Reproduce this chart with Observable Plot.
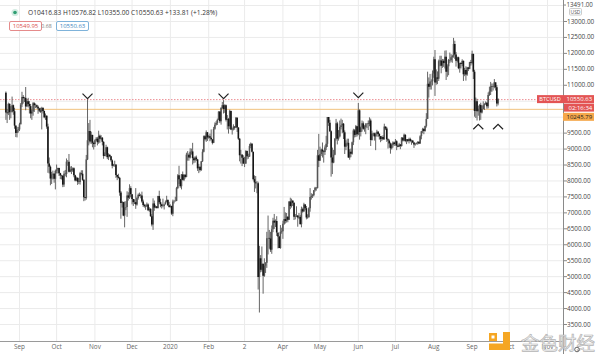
<!DOCTYPE html>
<html><head><meta charset="utf-8">
<script src="https://cdn.jsdelivr.net/npm/d3@7"></script>
<script src="https://cdn.jsdelivr.net/npm/@observablehq/plot@0.6"></script>
<style>html,body{margin:0;padding:0;background:#fff;overflow:hidden} #chart svg{display:block}</style>
</head><body><div id="chart"></div>
<script>
// ---- data (daily BTCUSD candles) ----
const startDate = "2019-08-21";
const firstOpen = 10750;
const closes = [
 10130,10110,10400,10140,10140,10360,10170,9720,9490,9580,9600,
 9760,10380,10620,10580,10590,10320,10480,10400,10330,10100,10160,10420,10360,10360,10310,10260,10190,10160,10270,10180,9980,10030,9690,8530,8430,8060,8190,8210,8050,8300,
 8340,8390,8230,8160,8150,7870,8210,8200,8590,8590,8270,8340,8320,8380,8160,8000,8080,7960,7950,8230,8210,8020,7470,7450,8660,9260,9550,9220,9430,9180,9140,
 9260,9310,9200,9400,9310,9340,9210,8770,8810,9040,8730,8800,8760,8630,8460,8490,8500,8170,8120,8080,7620,7290,7320,6900,7150,7170,7530,7460,7760,7570,
 7420,7320,7320,7250,7450,7550,7520,7530,7340,7230,7200,7190,7250,7070,7110,6880,6620,7280,7150,7190,7140,7510,7320,7250,7200,7200,7250,7320,7390,7220,7170,
 7200,6960,7340,7350,7360,7760,8160,8040,7820,8190,8020,8180,8110,8810,8810,8720,8900,8910,8700,8630,8720,8660,8380,8430,8330,8600,8900,9390,9290,9510,9350,
 9390,9340,9290,9180,9620,9750,9800,9900,10160,9860,10270,10360,10240,10360,9900,9930,9700,10180,9600,9610,9690,9660,9970,9660,9310,8790,8810,8710,8530,
 8530,8920,8760,8750,9080,9150,8900,8040,7940,7910,7910,4970,5560,5200,5390,5010,5330,5420,6190,6200,6180,5830,6470,6740,6680,6730,6370,6240,5880,6390,6410,
 6640,6790,6730,6860,6770,7340,7200,7370,7300,6860,6880,6900,6840,6860,6630,7100,7030,7250,7130,6840,6850,7130,7480,7510,7540,7690,7770,7760,8790,8620,
 8830,8970,8910,8890,9030,9150,9990,9810,9540,8720,8560,8810,9310,9790,9310,9380,9680,9730,9780,9510,9060,9170,9180,8720,8900,8840,9200,9570,9430,9700,9450,
 10200,9520,9660,9790,9620,9670,9760,9780,9770,9880,9270,9470,9480,9380,9450,9530,9460,9390,9300,9360,9290,9690,9630,9290,9250,9160,9010,9110,9190,9140,
 9230,9090,9060,9130,9080,9340,9250,9430,9240,9290,9240,9300,9240,9250,9190,9130,9150,9170,9210,9160,9390,9540,9610,9550,9710,9930,11030,10940,11100,11110,11350,
 11800,11070,11230,11190,11740,11760,11600,11750,11680,11880,11410,11580,11780,11770,11860,11910,12280,11950,11750,11860,11520,11680,11650,11750,11330,11460,11320,11540,11500,11710,11680,
 11970,11410,10180,10480,10170,10250,10370,10130,10240,10360,10400,10440,10330,10680,10790,10950,10940,10930,11080,10920,10416.83,10550.63
];
const highs = [
 10790,10240,10440,10420,10330,10630,10380,10280,9730,9680,9680,
 9810,10430,10780,10680,10620,10930,10550,10590,10490,10400,10220,10460,10450,10410,10380,10350,10280,10280,10310,10300,10190,10100,10040,9780,8720,8470,8270,8310,8230,8340,
 8500,8400,8400,8240,8180,8160,8300,8330,8690,8640,8830,8440,8450,8410,8410,8180,8120,8100,8080,8270,8320,8320,8040,7480,8800,10540,9800,9900,9530,9430,9220,
 9290,9360,9360,9560,9440,9420,9360,9230,8880,9120,9060,8850,8830,8770,8660,8520,8620,8500,8180,8210,8110,7670,7360,7330,7340,7350,7660,7630,7880,7820,
 7570,7420,7410,7760,7490,7590,7620,7580,7650,7400,7270,7250,7310,7280,7160,7130,6940,7440,7370,7220,7180,7520,7680,7430,7270,7430,7270,7370,7520,7410,7330,
 7250,7210,7400,7390,7490,7800,8200,8460,8050,8200,8280,8190,8190,8870,8920,8850,9010,9000,9180,8740,8760,8780,8670,8520,8430,8610,8980,9410,9420,9570,9520,
 9420,9470,9600,9290,9680,9820,9860,9940,10170,10160,10300,10460,10520,10390,10380,10050,9960,10220,10190,9650,9760,9700,9990,9980,9670,9330,8960,8830,8790,
 8740,8950,8940,8840,9150,9190,9170,8900,8160,8140,7980,7960,5950,5660,5930,5390,5560,5440,6390,6900,6450,6390,6590,6830,6950,6780,6880,6290,6260,6600,6520,
 6740,7170,7000,6980,6880,7350,7460,7430,7370,7310,6950,7190,6910,6980,6920,7180,7150,7300,7260,7200,6940,7160,7760,7600,7580,7700,7800,7790,8960,9460,
 9060,9000,9190,8950,9100,9400,9990,9990,9900,9570,9030,8960,9330,9930,9840,9580,9880,9940,9900,9800,9570,9260,9310,9310,8980,9000,9220,9620,9610,9740,9700,
 10430,10230,9690,9880,9850,9730,9800,9800,9880,9980,9940,9560,9500,9500,9500,9590,9550,9480,9390,9400,9420,9780,9690,9680,9320,9290,9190,9160,9230,9200,
 9300,9260,9120,9180,9140,9360,9360,9470,9450,9300,9300,9340,9340,9280,9270,9210,9180,9190,9230,9220,9420,9550,9650,9650,9720,10110,11410,11230,11340,11170,11450,
 11880,12090,11480,11420,11790,11910,11910,11810,11800,12070,12080,11640,11810,12010,11960,11940,12470,12380,12030,11880,11880,11690,11710,11800,11760,11530,11580,11560,11560,11720,11780,
 12070,11970,11470,10600,10560,10340,10390,10440,10340,10480,10420,10480,10450,10760,10940,11090,11040,11040,11180,11050,10990,10576.82
];
const lows = [
 9900,9800,10050,9900,9950,10140,10060,9620,9360,9350,9500,
 9550,9760,10300,10410,10460,10200,10320,10290,10100,9950,9900,10030,10150,10270,10260,10090,10140,10120,9600,10100,9950,9900,9620,8240,8220,7850,7890,8030,7930,7720,
 8220,8220,8140,8040,8030,7790,7800,8130,8100,8460,8250,8260,8200,8270,8100,7970,7980,7860,7890,7870,8160,7990,7350,7370,7400,8640,9100,9160,9140,9040,8970,
 9050,9230,9100,9150,9180,9260,9100,8680,8760,8750,8670,8640,8730,8590,8380,8440,8430,8080,8010,8060,7520,6800,7150,6880,6530,7070,6860,7370,7420,7480,
 7250,7200,7260,7110,7210,7400,7500,7440,7300,7170,7150,7080,7170,7040,7020,6860,6560,6450,7050,7130,7120,7120,7270,7160,7120,7160,7090,7250,7310,7200,7150,
 7150,6920,6880,7280,7340,7350,7730,7890,7770,7720,8000,7980,8060,8100,8620,8620,8690,8810,8500,8540,8560,8610,8300,8230,8280,8300,8580,8880,9250,9210,9240,
 9310,9230,9260,9130,9170,9590,9720,9740,9890,9800,9750,10250,10100,10120,9850,9600,9470,9610,9580,9440,9570,9590,9650,9520,9270,8600,8530,8450,8520,
 8420,8520,8660,8680,8740,9010,8880,8000,7640,7750,7600,4580,3860,5120,5140,4450,4980,5100,5260,5680,5860,5760,5700,6380,6480,6540,6260,5870,5880,5860,6330,
 6170,6610,6650,6680,6690,6760,7100,7150,7200,6760,6780,6850,6550,6790,6620,6530,6990,7020,7070,6780,6800,6840,7020,7400,7450,7500,7650,7680,7750,8420,
 8620,8770,8720,8560,8800,8950,9050,9710,9520,8120,8200,8540,8790,9250,9130,9250,9350,9600,9480,9300,8830,8950,9090,8710,8650,8730,8810,9110,9350,9360,9380,
 9420,9280,9380,9530,9590,9530,9450,9640,9580,9700,9080,9250,9400,9250,8950,9380,9360,9280,9200,9240,9270,9280,9580,9210,9000,9030,8840,8970,9030,9080,
 9090,8950,9040,9050,8980,9060,9220,9230,9200,9140,9200,9160,9200,9120,9170,9020,9090,9130,9120,9140,9150,9290,9480,9450,9530,9660,9930,10600,10850,10850,10980,
 11220,10650,11000,11020,11120,11580,11360,11530,11560,11510,11150,11250,11300,11680,11710,11690,11850,11810,11570,11700,11490,11380,11510,11580,11120,11270,11130,11280,11430,11490,11600,
 11640,11180,10000,9960,9880,10030,9880,9900,10100,10230,10210,10370,10250,10260,10650,10680,10780,10820,10890,10820,10320,10355
];
const monthDates = ["2019-09-01","2019-10-01","2019-11-01","2019-12-01","2020-01-01","2020-02-01","2020-03-01","2020-04-01","2020-05-01","2020-06-01","2020-07-01","2020-08-01","2020-09-01","2020-10-01","2020-11-01"];
const monthLabels = ["Sep","Oct","Nov","Dec","2020","Feb","2","Apr","May","Jun","Jul","Aug","Sep","Oct","Nov"];
const labeledTicks = [3500,4000,4500,5000,5500,6000,6500,7000,7500,8000,8500,9000,9500,11000,11500,12000,12500,13000];
const gridPrices = [3500,4000,4500,5000,5500,6000,6500,7000,7500,8000,8500,9000,9500,10000,10500,11000,11500,12000,12500,13000,13500];
const lastPrice = 10550.63;
const levelPrice = 10245.79;
const peakMarkDates = ["2019-10-26","2020-02-13","2020-06-01"];
const peakMarkPrices = [10660,10660,10690];
const troughMarkDates = ["2020-09-06","2020-09-22"];
const troughMarkPrices = [9700,9700];
const legendText = "O10416.83 H10576.82 L10355.00 C10550.63 +133.81 (+1.28%)";
const bidText = "10549.95", spreadText = "0.68", askText = "10550.63";
const symbolText = "BTCUSD", countdownText = "02:16:34";
const topScaleText = "13491.00", currencyText = "USD";
const watermarkText = "金色财经";

// ---- build ----
const DAY = 864e5;
const t0 = Date.parse(startDate + "T00:00:00Z");
const candles = closes.map((c, i) => ({
  date: new Date(t0 + i * DAY),
  open: i ? closes[i - 1] : firstOpen,
  close: c, high: highs[i], low: lows[i]
}));
const up = candles.filter(d => d.close >= d.open);
const down = candles.filter(d => d.close < d.open);
const peaks = peakMarkDates.map((d, i) => ({date: new Date(d + "T00:00:00Z"), price: peakMarkPrices[i]}));
const troughs = troughMarkDates.map((d, i) => ({date: new Date(d + "T00:00:00Z"), price: troughMarkPrices[i]}));
const months = monthDates.map(d => new Date(d + "T00:00:00Z"));

const chevronDown = {draw(ctx, size) { const r = Math.sqrt(size / Math.PI); ctx.moveTo(-r, -r * 0.5); ctx.lineTo(0, r * 0.5); ctx.lineTo(r, -r * 0.5); }};
const chevronUp = {draw(ctx, size) { const r = Math.sqrt(size / Math.PI); ctx.moveTo(-r, r * 0.5); ctx.lineTo(0, -r * 0.5); ctx.lineTo(r, r * 0.5); }};

const xDomain = [new Date("2019-08-16T15:10:00Z"), new Date("2020-11-13T22:00:00Z")];
const yDomain = [2967, 13658];

const chart = Plot.plot({
  width: 600, height: 354,
  marginLeft: 0, marginRight: 37, marginTop: 0, marginBottom: 13,
  style: {background: "#fff", fontFamily: "'Open Sans', sans-serif"},
  x: {type: "utc", domain: xDomain, axis: null},
  y: {domain: yDomain, axis: null},
  marks: [
    Plot.ruleY(gridPrices, {stroke: "#ebebeb", strokeWidth: 1}),
    Plot.ruleX(months, {stroke: "#ebebeb", strokeWidth: 1}),
    Plot.ruleY([lastPrice], {stroke: "#ec8d93", strokeDasharray: "1.5,1.5", strokeWidth: 1}),
    Plot.ruleY([levelPrice], {stroke: "#f1c27f", strokeWidth: 1}),
    Plot.ruleX(candles, {x: "date", y1: "low", y2: "high", stroke: "#555", strokeWidth: 0.9}),
    Plot.ruleX(up, {x: "date", y1: "open", y2: "close", stroke: "#555", strokeWidth: 1.6}),
    Plot.ruleX(down, {x: "date", y1: "open", y2: "close", stroke: "#151515", strokeWidth: 1.6}),
    Plot.dot(peaks, {x: "date", y: "price", symbol: chevronDown, r: 5, stroke: "#222", fill: "none", strokeWidth: 1.2}),
    Plot.dot(troughs, {x: "date", y: "price", symbol: chevronUp, r: 5, stroke: "#222", fill: "none", strokeWidth: 1.2}),
    Plot.ruleY([yDomain[0]], {stroke: "#9a9a9a"}),
    Plot.axisY({anchor: "right", ticks: labeledTicks, tickFormat: d => d.toFixed(2), tickSize: 3, tickPadding: 0.5, fontSize: 6.4, color: "#444", stroke: "#888"}),
    Plot.text(months, {x: d => d, text: (d, i) => monthLabels[i], frameAnchor: "bottom", dy: 7, fontSize: 6.4, fill: "#666"})
  ]
});
document.getElementById("chart").appendChild(chart);

// ---- overlays positioned through the plot's scales ----
const svg = d3.select(chart);
const ys = chart.scale("y");
const xr = 563;
const f = "'Open Sans', sans-serif";
svg.append("line").attr("x1", xr + 0.5).attr("x2", xr + 0.5).attr("y1", 0).attr("y2", 354).attr("stroke", "#8a8a8a");

// legend
const lg = svg.append("g").attr("font-family", f).attr("text-anchor", "start");
lg.append("circle").attr("cx", 15).attr("cy", 12.5).attr("r", 3.6).attr("fill", "#d3ece2");
lg.append("circle").attr("cx", 15).attr("cy", 12.5).attr("r", 1.8).attr("fill", "#2f9e72");
lg.append("text").attr("x", 28).attr("y", 15.2).attr("font-size", 6.6).attr("fill", "#333").text(legendText);
lg.append("rect").attr("x", 9.5).attr("y", 21.5).attr("width", 32).attr("height", 9).attr("rx", 1.5).attr("fill", "#fff").attr("stroke", "#e58b8b");
lg.append("text").attr("x", 25.5).attr("y", 28.2).attr("text-anchor", "middle").attr("font-size", 6).attr("fill", "#d9534f").text(bidText);
lg.append("text").attr("x", 46.5).attr("y", 28).attr("text-anchor", "middle").attr("font-size", 5.2).attr("fill", "#777").text(spreadText);
lg.append("rect").attr("x", 56.5).attr("y", 21.5).attr("width", 32).attr("height", 9).attr("rx", 1.5).attr("fill", "#fff").attr("stroke", "#7fb3da");
lg.append("text").attr("x", 72.5).attr("y", 28.2).attr("text-anchor", "middle").attr("font-size", 6).attr("fill", "#3b86c0").text(askText);

// right price labels
const yl = ys.apply(lastPrice), yv = ys.apply(levelPrice);
const rl = svg.append("g").attr("font-family", f).attr("font-size", 6).attr("text-anchor", "start");
rl.append("rect").attr("x", 537).attr("y", yl - 4).attr("width", 26).attr("height", 8).attr("fill", "#e35454");
rl.append("text").attr("x", 550).attr("y", yl + 2.2).attr("text-anchor", "middle").attr("font-size", 5.6).attr("fill", "#fff").text(symbolText);
rl.append("rect").attr("x", 563).attr("y", yl - 4).attr("width", 31).attr("height", 8).attr("fill", "#e35454");
rl.append("text").attr("x", 566.5).attr("y", yl + 2.2).attr("fill", "#fff").text(lastPrice.toFixed(2));
rl.append("rect").attr("x", 564).attr("y", yl + 4.5).attr("width", 30).attr("height", 8).attr("fill", "#e35454");
rl.append("text").attr("x", 568.5).attr("y", yl + 10.7).attr("fill", "#fff").text(countdownText);
rl.append("rect").attr("x", 563).attr("y", yv + 4).attr("width", 31).attr("height", 8).attr("fill", "#f5a74a");
rl.append("text").attr("x", 566.5).attr("y", yv + 10.2).attr("fill", "#222").text(levelPrice.toFixed(2));

// top of scale
const y135 = ys.apply(13500);
rl.append("line").attr("x1", xr).attr("x2", xr + 3).attr("y1", y135).attr("y2", y135).attr("stroke", "#888");
rl.append("text").attr("x", 566.5).attr("y", y135 + 2).attr("fill", "#444").attr("font-size", 6.2).text(topScaleText);
rl.append("rect").attr("x", 569.5).attr("y", y135 + 3.5).attr("width", 12).attr("height", 6.5).attr("rx", 1).attr("fill", "#fff").attr("stroke", "#ccc");
rl.append("text").attr("x", 575.5).attr("y", y135 + 8.7).attr("text-anchor", "middle").attr("fill", "#555").attr("font-size", 5).text(currencyText);

// watermark
const wm = svg.append("g");
wm.append("rect").attr("x", 489).attr("y", 333).attr("width", 8).attr("height", 8).attr("fill", "#f5a623");
wm.append("rect").attr("x", 491.5).attr("y", 335.5).attr("width", 3).attr("height", 3).attr("fill", "#fff");
wm.append("rect").attr("x", 503).attr("y", 332).attr("width", 7).attr("height", 18).attr("fill", "#f5a623");
wm.append("rect").attr("x", 489).attr("y", 343.5).attr("width", 21).attr("height", 6.5).attr("fill", "#f5a623");
wm.append("text").attr("x", 521).attr("y", 350).attr("text-anchor", "start").attr("font-family", "'Noto Sans CJK SC', sans-serif").attr("font-size", 18.5)
  .attr("fill", "#f3f3f3").attr("stroke", "#b5b5b5").attr("stroke-width", 0.7).text(watermarkText);
wm.append("circle").attr("cx", 577).attr("cy", 349.5).attr("r", 2.3).attr("fill", "none").attr("stroke", "#555").attr("stroke-width", 0.9);
</script>
</body></html>
